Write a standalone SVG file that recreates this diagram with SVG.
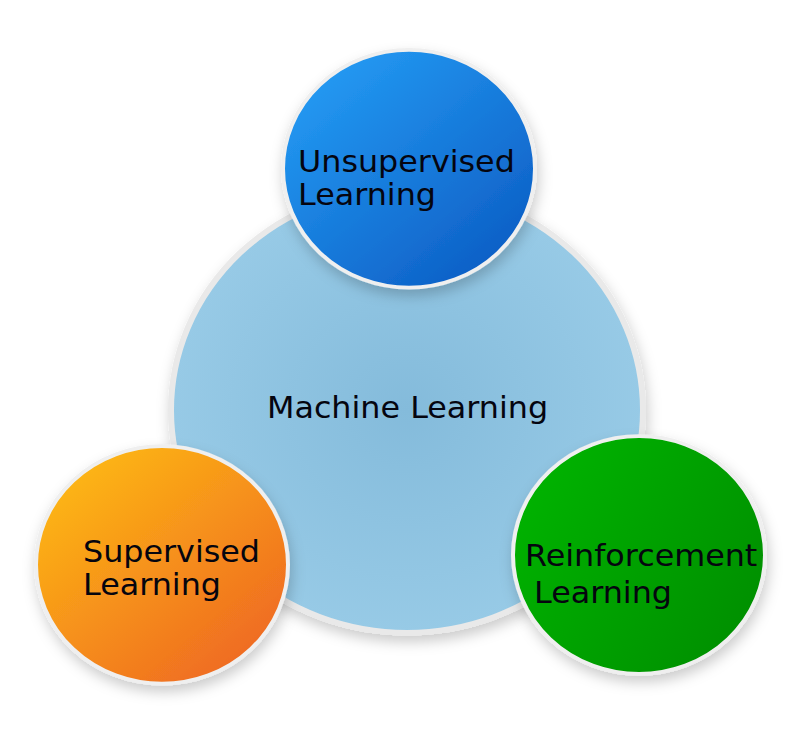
<svg xmlns="http://www.w3.org/2000/svg" width="794" height="734" viewBox="0 0 794 734">
  <defs>
    <radialGradient id="gBig" cx="0.5" cy="0.5" r="0.5">
      <stop offset="0" stop-color="#84bbdb"/>
      <stop offset="1" stop-color="#97cae6"/>
    </radialGradient>
    <linearGradient id="gUns" x1="0.15" y1="0.1" x2="0.85" y2="0.9">
      <stop offset="0" stop-color="#2399f2"/>
      <stop offset="1" stop-color="#0d5fc6"/>
    </linearGradient>
    <linearGradient id="gSup" x1="0.15" y1="0.1" x2="0.85" y2="0.9">
      <stop offset="0" stop-color="#fdb614"/>
      <stop offset="1" stop-color="#ef6a22"/>
    </linearGradient>
    <linearGradient id="gRei" x1="0" y1="0.2" x2="1" y2="0.8">
      <stop offset="0" stop-color="#00b400"/>
      <stop offset="1" stop-color="#008e00"/>
    </linearGradient>
    <filter id="shadow" x="-20%" y="-20%" width="140%" height="150%">
      <feDropShadow dx="2" dy="7" stdDeviation="7" flood-color="#000" flood-opacity="0.2"/>
    </filter>
  </defs>
  <style>
    .lbl { font-family: "DejaVu Sans", "Liberation Sans", sans-serif; font-size: 31.8px; fill: #05050f; }
    .rimBig { stroke: #e9e9e9; stroke-width: 6; }
    .rim { stroke: #efefef; stroke-width: 4; }
  </style>
  <rect width="794" height="734" fill="#ffffff"/>
  <g transform="scale(1,0.943)">
    <g id="connectors"/>
    <g id="machine-learning">
      <circle cx="407" cy="435" r="236" fill="url(#gBig)" class="rimBig" filter="url(#shadow)"/>
      <text class="lbl" x="267" y="443.3">Machine Learning</text>
    </g>
    <g id="unsupervised-learning">
      <circle cx="409" cy="179" r="126" fill="url(#gUns)" class="rim" filter="url(#shadow)"/>
      <text class="lbl" x="298" y="182.1">Unsupervised</text>
      <text class="lbl" x="298" y="217.4">Learning</text>
    </g>
    <g id="supervised-learning">
      <circle cx="162" cy="599" r="126" fill="url(#gSup)" class="rim" filter="url(#shadow)"/>
      <text class="lbl" x="83" y="595.7">Supervised</text>
      <text class="lbl" x="83" y="631">Learning</text>
    </g>
    <g id="reinforcement-learning">
      <circle cx="639" cy="588.5" r="126" fill="url(#gRei)" class="rim" filter="url(#shadow)"/>
      <text class="lbl" x="525" y="600.2">Reinforcement</text>
      <text class="lbl" x="534" y="639.1">Learning</text>
    </g>
  </g>
</svg>
